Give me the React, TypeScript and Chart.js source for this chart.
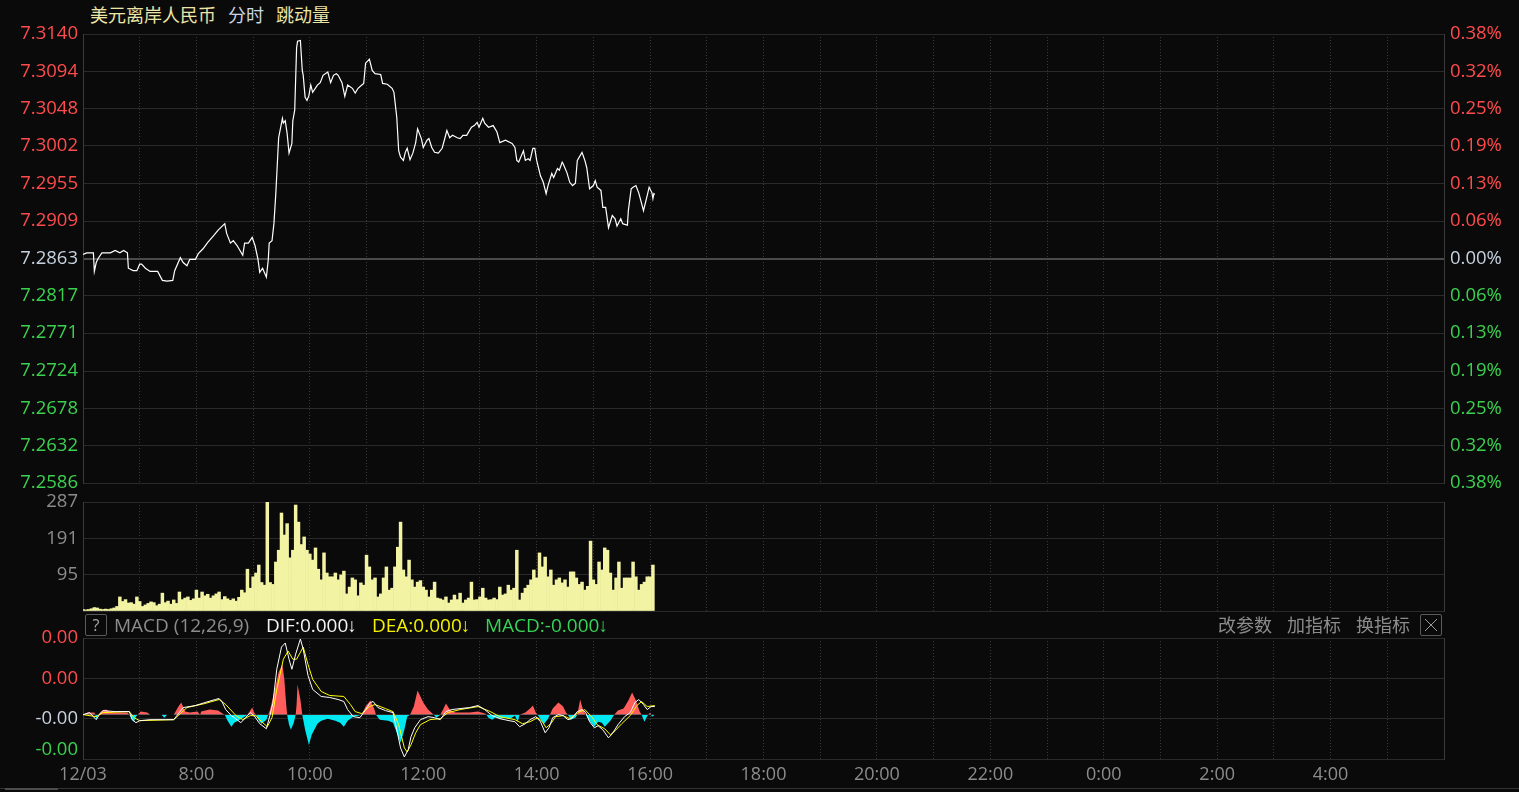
import React, { useEffect, useRef } from "react";
import { Chart, registerables } from "chart.js";

Chart.register(...registerables);

// ---------------- data ----------------
const BASE_PRICE = 7.2863; // previous close (0.00%)
const SESSION_MINUTES = 1440; // 06:00 12/03 -> 06:00 next day
const hourTicks = [0, 60, 120, 180, 240, 300, 360, 420, 480, 540, 600, 660, 720, 780, 840, 900, 960, 1020, 1080, 1140, 1200, 1260, 1320, 1380, 1440];
const timeLabelMinutes = [0, 120, 240, 360, 480, 600, 720, 840, 960, 1080, 1200, 1320];
const timeLabels = ["12/03", "8:00", "10:00", "12:00", "14:00", "16:00", "18:00", "20:00", "22:00", "0:00", "2:00", "4:00"];

const priceTicks = [7.314, 7.3094, 7.3048, 7.3002, 7.2955, 7.2909, 7.2863, 7.2817, 7.2771, 7.2724, 7.2678, 7.2632, 7.2586];
const volumeTicks = [287, 191, 95, 0];
const macdTicks = [0.0019, 0.0009, -0.0001, -0.00088, -0.0011];

// minutes after 06:00
const priceMinutes = [
  0, 4, 11, 12, 14, 16, 20, 29, 34, 39,
  43, 47, 48, 53, 57, 60, 62, 66, 71, 79,
  84, 89, 95, 97, 103, 106, 110, 113, 119, 122,
  127, 132, 138, 143, 150, 152, 156, 159, 163, 169,
  171, 175, 179, 182, 185, 187, 190, 194, 196, 197,
  200, 202, 204, 207, 211, 212, 214, 216, 218, 221,
  222, 224, 226, 227, 230, 232, 233, 235, 237, 239,
  241, 243, 248, 251, 254, 259, 262, 265, 268, 270,
  274, 277, 280, 285, 288, 291, 295, 297, 299, 303,
  306, 309, 315, 317, 322, 327, 329, 332, 334, 336,
  339, 341, 343, 346, 349, 352, 354, 358, 360, 364,
  366, 369, 372, 376, 380, 383, 385, 388, 391, 396,
  399, 402, 406, 411, 414, 417, 419, 423, 425, 429,
  434, 438, 441, 447, 454, 457, 459, 461, 466, 468,
  471, 473, 476, 478, 480, 484, 487, 490, 492, 496,
  498, 502, 504, 507, 508, 512, 515, 518, 521, 523,
  528, 531, 533, 536, 540, 542, 544, 548, 550, 553,
  556, 560, 563, 565, 569, 571, 576, 577, 580, 582,
  585, 588, 591, 593, 597, 599, 602, 603, 604, 605,
];
const prices = [
  7.2868, 7.287, 7.287, 7.2847, 7.2858, 7.2863, 7.287, 7.287, 7.2873, 7.287,
  7.2873, 7.287, 7.2851, 7.2848, 7.2848, 7.2856, 7.2856, 7.2851, 7.2847, 7.2847,
  7.2836, 7.2835, 7.2836, 7.2848, 7.2864, 7.2858, 7.2854, 7.2862, 7.2862, 7.2869,
  7.2875, 7.2883, 7.2891, 7.2898, 7.2906, 7.2894, 7.2882, 7.2885, 7.2879, 7.2867,
  7.2882, 7.2882, 7.2889, 7.2879, 7.2863, 7.2846, 7.2851, 7.284, 7.2861, 7.2882,
  7.2885, 7.2906, 7.2943, 7.3012, 7.3036, 7.303, 7.3033, 7.3017, 7.2993, 7.3005,
  7.3033, 7.3046, 7.3123, 7.3131, 7.3132, 7.3095, 7.3089, 7.3062, 7.3058, 7.3064,
  7.3077, 7.3068, 7.3077, 7.308, 7.3089, 7.3093, 7.308, 7.3089, 7.3091, 7.3089,
  7.308, 7.3063, 7.3077, 7.3073, 7.3067, 7.3073, 7.3077, 7.3079, 7.3104, 7.3109,
  7.3095, 7.3091, 7.309, 7.3079, 7.3078, 7.3073, 7.3068, 7.3037, 7.2996, 7.2988,
  7.2984, 7.2994, 7.2999, 7.2985, 7.2993, 7.3006, 7.3023, 7.3011, 7.3, 7.3009,
  7.3011, 7.3, 7.2994, 7.2993, 7.2999, 7.3012, 7.3021, 7.3012, 7.3015, 7.3012,
  7.3011, 7.3015, 7.3015, 7.3025, 7.3027, 7.3031, 7.3025, 7.3036, 7.303, 7.3025,
  7.3027, 7.3019, 7.3006, 7.3009, 7.3005, 7.3, 7.2984, 7.2982, 7.2996, 7.2984,
  7.2986, 7.2984, 7.2999, 7.2999, 7.2984, 7.2965, 7.2957, 7.2943, 7.2953, 7.2968,
  7.2963, 7.2974, 7.2972, 7.2982, 7.298, 7.2969, 7.2957, 7.2953, 7.2956, 7.2984,
  7.2994, 7.2984, 7.2975, 7.2949, 7.2953, 7.2959, 7.2951, 7.2947, 7.2926, 7.2926,
  7.2901, 7.2916, 7.2912, 7.2903, 7.2912, 7.2906, 7.2904, 7.2922, 7.2949, 7.2951,
  7.2953, 7.2944, 7.2931, 7.2922, 7.2941, 7.2951, 7.2944, 7.2937, 7.2943, 7.2942,
];

// tick volume, one value per 3-minute slot from 06:00
const VOLUME_STEP_MIN = 3;
const volumes = [
  4, 3, 4, 6, 9, 8, 5, 4, 5, 4,
  6, 8, 12, 37, 25, 30, 21, 22, 18, 37,
  25, 12, 16, 20, 24, 22, 14, 18, 47, 22,
  26, 18, 29, 20, 50, 30, 34, 37, 28, 32,
  55, 34, 50, 40, 44, 34, 40, 45, 50, 30,
  38, 32, 28, 32, 26, 36, 55, 48, 110, 60,
  90, 100, 121, 75, 68, 287, 75, 70, 129, 160,
  258, 200, 230, 140, 160, 279, 234, 175, 195, 160,
  150, 134, 166, 110, 82, 153, 100, 90, 90, 100,
  82, 95, 105, 45, 63, 87, 82, 40, 74, 68,
  147, 116, 82, 87, 37, 45, 87, 116, 55, 60,
  116, 168, 234, 108, 90, 134, 82, 63, 76, 80,
  63, 55, 37, 55, 76, 34, 32, 29, 37, 21,
  29, 42, 30, 47, 21, 29, 34, 76, 29, 30,
  37, 60, 34, 29, 30, 34, 30, 63, 42, 45,
  68, 55, 60, 160, 29, 47, 60, 68, 82, 108,
  87, 153, 116, 142, 90, 108, 68, 82, 87, 74,
  82, 63, 103, 103, 87, 70, 76, 55, 65, 184,
  82, 70, 129, 108, 166, 160, 100, 55, 87, 129,
  60, 87, 87, 87, 129, 90, 55, 70, 76, 90,
  90, 121,
];

const histMinutes = [
  0, 5, 12, 13, 14, 16, 21, 24, 28, 31,
  47, 49, 52, 54, 56, 58, 61, 68, 71, 83,
  86, 89, 96, 101, 104, 108, 113, 121, 124, 125,
  134, 143, 148, 150, 153, 157, 160, 166, 171, 174,
  177, 179, 181, 183, 186, 189, 194, 196, 198, 203,
  207, 211, 213, 215, 216, 218, 220, 223, 225, 226,
  227, 230, 232, 235, 239, 242, 248, 252, 259, 267,
  272, 276, 280, 286, 291, 295, 299, 304, 308, 310,
  314, 323, 328, 332, 336, 340, 343, 346, 350, 354,
  360, 365, 370, 374, 378, 381, 384, 388, 394, 399,
  409, 418, 426, 429, 433, 437, 441, 447, 452, 457,
  460, 462, 468, 473, 476, 479, 481, 485, 488, 492,
  494, 497, 503, 508, 511, 513, 516, 521, 523, 526,
  529, 532, 535, 541, 545, 549, 552, 558, 562, 566,
  572, 577, 581, 585, 589, 591, 594, 596, 598, 600,
  602, 605,
];
const histValues = [
  0, 0.00005, 0.00005, 0, -0.000125, 0, 0.0001, 0.000125, 0.000075, 0.00005,
  0.00005, 0, -0.000125, -0.000175, -0.00005, 0, 0.000075, 0.00005, 0, 0,
  -0.000075, 0, 0, 0.0002, 0.0003, 0.000075, 0.00005, 0.000075, 0, 0.000075,
  0.000125, 0.0001, 0.000025, 0, -0.00015, -0.0003, -0.0002, -0.000125, -0.00005, 0,
  0.0001, 0.000175, 0.00005, 0, -0.00015, -0.000225, -0.000125, 0, 0.000125, 0.000625,
  0.00105, 0.00125, 0.000875, 0.00025, 0, -0.00025, -0.000375, -0.0002, 0, 0.00025,
  0.00075, 0.000375, 0, -0.000375, -0.00075, -0.0005, -0.000225, -0.00015, -0.0001, -0.00015,
  -0.0002, -0.0003, -0.00015, -0.00005, -0.000025, 0, 0.0002, 0.00035, 0.00015, 0,
  -0.000125, -0.00015, -0.0002, -0.00045, -0.0007, -0.000375, -0.00005, 0, 0.0002, 0.0006,
  0.0003, 0.000125, 0.000025, -0.000075, 0, 0.000125, 0.000275, 0.000125, 0.00005, 0.00005,
  0.00005, 0.000075, 0.000025, -0.000075, -0.000125, -0.00005, -0.0001, -0.000075, -0.0001, -0.000025,
  -0.000175, 0, 0.00005, 0.00015, 0.000225, 0.00005, 0, -0.00015, -0.000225, -0.0001,
  0, 0.00015, 0.0003, 0.0002, 0.00005, 0, -0.000125, -0.000075, 0, 0.000375,
  0.000125, 0, -0.000125, -0.0003, -0.000175, -0.0002, -0.0003, -0.00015, 0, 0.0001,
  0.00015, 0.00035, 0.00055, 0.00035, 0.000075, 0, -0.000175, -0.000075, 0, 0.00005,
  -0.00005, 0,
];

const difMinutes = [
  0, 7, 14, 18, 21, 34, 49, 52, 56, 60,
  71, 87, 96, 101, 106, 119, 129, 140, 144, 147,
  151, 157, 160, 167, 172, 177, 181, 187, 194, 198,
  201, 205, 210, 214, 218, 221, 225, 230, 233, 238,
  243, 252, 261, 270, 276, 280, 286, 293, 299, 304,
  307, 312, 320, 328, 332, 336, 340, 344, 347, 351,
  357, 365, 372, 378, 384, 390, 399, 409, 418, 425,
  433, 441, 451, 457, 462, 468, 473, 479, 484, 489,
  493, 497, 503, 508, 513, 517, 523, 528, 532, 536,
  541, 545, 550, 556, 560, 566, 573, 579, 584, 588,
  593, 597, 601, 605,
];
const difValues = [
  0, 0.00005, -0.000125, 0.000025, 0.0001, 0.000075, 0.000075, -0.000125, -0.0002, -0.00015,
  -0.000125, -0.000125, -0.000125, 0.000025, 0.000175, 0.000225, 0.0003, 0.000375, 0.0004, 0.000325,
  0.000125, -0.000025, -0.000075, -0.0002, -0.000075, 0.00005, -0.000025, -0.000225, -0.00035, 0,
  0.0003, 0.001125, 0.001675, 0.001775, 0.001375, 0.001125, 0.0015, 0.001875, 0.001625, 0.000975,
  0.000625, 0.00045, 0.000425, 0.000375, 0.000325, 0.000125, -0.00005, -0.000075, 0.000125, 0.0003,
  0.000325, 0.000175, 0.0001, 0.00005, -0.000375, -0.000825, -0.00105, -0.000875, -0.00055, -0.000325,
  -0.000125, -0.00005, -0.000075, -0.000125, 0.000075, 0.000125, 0.00015, 0.000175, 0.000225, 0.000125,
  -0.000025, -0.0001, -0.00015, -0.000175, -0.0003, -0.000225, -0.000125, -0.00005, -0.000175, -0.00045,
  -0.000325, -0.000075, 0, -0.000025, -0.000125, -0.0001, 0.000075, 0.000125, 0.00005, -0.000175,
  -0.000325, -0.000275, -0.000375, -0.000575, -0.000475, -0.00025, -0.00005, 0.00005, 0.0003, 0.000375,
  0.00025, 0.000125, 0.0002, 0.0002,
];

const deaMinutes = [
  0, 14, 21, 49, 54, 60, 96, 103, 110, 129,
  144, 151, 162, 169, 177, 183, 189, 195, 200, 205,
  212, 217, 222, 226, 233, 238, 243, 252, 261, 276,
  283, 288, 295, 303, 309, 320, 328, 334, 340, 343,
  347, 352, 357, 367, 378, 386, 399, 418, 431, 441,
  457, 465, 473, 481, 486, 490, 495, 500, 508, 515,
  524, 531, 539, 544, 552, 558, 563, 570, 579, 586,
  591, 597, 605,
];
const deaValues = [
  0, -0.00005, 0.00005, 0.000075, -0.000075, -0.00015, -0.000125, 0.000025, 0.000175, 0.000275,
  0.000375, 0.00025, -0.000025, -0.000125, -0.000025, -0.000025, -0.000175, -0.0003, -0.000075, 0.000625,
  0.001375, 0.001575, 0.001375, 0.001375, 0.001675, 0.00125, 0.000875, 0.000575, 0.000475, 0.00045,
  0.00025, 0.000075, 0.000025, 0.0002, 0.00025, 0.00015, 0.000075, -0.00025, -0.000825, -0.000925,
  -0.00075, -0.00045, -0.00025, -0.000125, -0.0001, 0.00005, 0.000125, 0.0002, 0.000075, -0.00005,
  -0.000125, -0.000225, -0.000175, -0.000075, -0.000175, -0.000325, -0.000225, -0.00005, -0.000025, -0.0001,
  0.00005, 0.000125, -0.000075, -0.00025, -0.00035, -0.0005, -0.0004, -0.000225, -0.000025, 0.000225,
  0.000325, 0.0002, 0.000225,
];

// ---------------- styles ----------------
const FONT_FAMILY = '"Open Sans", "Noto Sans CJK SC", sans-serif';
const BG = "#0a0a0a";
const GRID = "#2a2a2a";
const VGRID = "#3a3a3a";
const FRAME = "#3a3a3a";
const UP = "#ff4b4b";
const DOWN = "#3bd150";
const FLAT = "#c6d2df";
const MUTED = "#8c8c8c";
const tickFont = { family: FONT_FAMILY, size: 18 };
const yTickFont = { family: FONT_FAMILY, size: 18.5 };

const W = 1519;
const LEFT_AXIS_W = 83;
const RIGHT_AXIS_W = 75;

function priceColor(v: number) {
  if (v > BASE_PRICE + 1e-7) return UP;
  if (v < BASE_PRICE - 1e-7) return DOWN;
  return FLAT;
}

function makeXScale(showLabels: boolean): any {
  return {
    type: "linear",
    min: 0,
    max: SESSION_MINUTES,
    offset: false,
    afterBuildTicks: (s: any) => {
      s.ticks = hourTicks.map((v) => ({ value: v }));
    },
    afterFit: (s: any) => {
      s.height = showLabels ? 33 : 0;
    },
    grid: {
      color: (c: any) =>
        c.tick && (c.tick.value === 0 || c.tick.value === SESSION_MINUTES) ? "rgba(0,0,0,0)" : VGRID,
      lineWidth: 1,
      drawTicks: false,
      offset: false,
    },
    border: { display: false, dash: [1, 2] },
    ticks: {
      display: showLabels,
      autoSkip: false,
      maxRotation: 0,
      minRotation: 0,
      color: MUTED,
      font: tickFont,
      padding: 5,
      callback: (v: any) => {
        const k = timeLabelMinutes.indexOf(Number(v));
        return k >= 0 ? timeLabels[k] : "";
      },
    },
  };
}

function frameAxis(min: number, max: number): any {
  return {
    position: "right",
    min,
    max,
    afterFit: (s: any) => {
      s.width = RIGHT_AXIS_W;
    },
    grid: { display: false, drawTicks: false },
    border: { display: true, color: FRAME },
    ticks: { display: false },
  };
}

const baseOptions: any = {
  responsive: false,
  maintainAspectRatio: false,
  animation: false,
  devicePixelRatio: 1,
  events: [],
  plugins: { legend: { display: false }, tooltip: { enabled: false }, title: { display: false } },
  elements: { point: { radius: 0 }, line: { tension: 0 } },
};

// canvas placement (page px): price 0..510, volume 478..638, macd 610..792
const PRICE_TOP = 0, PRICE_H = 510;
const VOL_TOP = 478, VOL_H = 160;
const MACD_TOP = 610, MACD_H = 182;

export default function App() {
  const priceRef = useRef<HTMLCanvasElement | null>(null);
  const volRef = useRef<HTMLCanvasElement | null>(null);
  const macdRef = useRef<HTMLCanvasElement | null>(null);

  useEffect(() => {
    const charts: Chart[] = [];

    // ---- price panel ----
    charts.push(
      new Chart(priceRef.current as HTMLCanvasElement, {
        type: "line",
        data: {
          datasets: [
            {
              label: "美元离岸人民币",
              data: priceMinutes.map((m, i) => ({ x: m, y: prices[i] })),
              borderColor: "#ffffff",
              borderWidth: 1.2,
              pointRadius: 0,
              tension: 0,
              fill: false,
            },
          ],
        },
        options: {
          ...baseOptions,
          layout: { padding: { top: 34, bottom: PRICE_H - 483, left: 0, right: 0 } },
          scales: {
            x: makeXScale(false),
            y: {
              position: "left",
              min: priceTicks[priceTicks.length - 1],
              max: priceTicks[0],
              afterBuildTicks: (s: any) => {
                s.ticks = priceTicks.map((v) => ({ value: v }));
              },
              afterFit: (s: any) => {
                s.width = LEFT_AXIS_W;
              },
              grid: {
                color: (c: any) => (c.tick && Math.abs(c.tick.value - BASE_PRICE) < 1e-7 ? "#4a4a4a" : GRID),
                lineWidth: (c: any) => (c.tick && Math.abs(c.tick.value - BASE_PRICE) < 1e-7 ? 2 : 1),
                drawTicks: false,
              },
              border: { display: true, color: FRAME },
              ticks: {
                autoSkip: false,
                padding: 5,
                font: yTickFont,
                color: (c: any) => priceColor(c.tick ? c.tick.value : BASE_PRICE),
                callback: (v: any) => Number(v).toFixed(4),
              },
            },
            y2: {
              position: "right",
              min: priceTicks[priceTicks.length - 1],
              max: priceTicks[0],
              afterBuildTicks: (s: any) => {
                s.ticks = priceTicks.map((v) => ({ value: v }));
              },
              afterFit: (s: any) => {
                s.width = RIGHT_AXIS_W;
              },
              grid: { display: false, drawTicks: false },
              border: { display: true, color: FRAME },
              ticks: {
                autoSkip: false,
                padding: 6,
                font: yTickFont,
                color: (c: any) => priceColor(c.tick ? c.tick.value : BASE_PRICE),
                callback: (v: any) => ((Math.abs(Number(v) - BASE_PRICE) / BASE_PRICE) * 100).toFixed(2) + "%",
              },
            },
          },
        } as any,
      })
    );

    // ---- volume panel ----
    charts.push(
      new Chart(volRef.current as HTMLCanvasElement, {
        type: "bar",
        data: {
          datasets: [
            {
              label: "跳动量",
              data: volumes.map((v, i) => ({ x: i * VOLUME_STEP_MIN, y: v })),
              backgroundColor: "#f3f3a4",
              borderWidth: 0,
              barPercentage: 1,
              categoryPercentage: 1,
            } as any,
          ],
        },
        options: {
          ...baseOptions,
          layout: { padding: { top: 502 - VOL_TOP, bottom: VOL_TOP + VOL_H - 611, left: 0, right: 0 } },
          scales: {
            x: makeXScale(false),
            y: {
              position: "left",
              min: 0,
              max: volumeTicks[0],
              afterBuildTicks: (s: any) => {
                s.ticks = volumeTicks.map((v) => ({ value: v }));
              },
              afterFit: (s: any) => {
                s.width = LEFT_AXIS_W;
              },
              grid: { color: GRID, drawTicks: false },
              border: { display: true, color: FRAME },
              ticks: {
                autoSkip: false,
                padding: 5,
                font: yTickFont,
                color: MUTED,
                callback: (v: any) => (Number(v) === 0 ? "" : String(v)),
              },
            },
            y2: frameAxis(0, volumeTicks[0]),
          },
        } as any,
      })
    );

    // ---- MACD panel ----
    const macdMax = macdTicks[0];
    const macdMin = macdTicks[macdTicks.length - 1];
    charts.push(
      new Chart(macdRef.current as HTMLCanvasElement, {
        type: "line",
        data: {
          datasets: [
            {
              label: "DIF",
              data: difMinutes.map((m, i) => ({ x: m, y: difValues[i] })),
              borderColor: "#ffffff",
              borderWidth: 1,
              pointRadius: 0,
              tension: 0,
              fill: false,
              order: 1,
            },
            {
              label: "DEA",
              data: deaMinutes.map((m, i) => ({ x: m, y: deaValues[i] })),
              borderColor: "#ffff00",
              borderWidth: 1,
              pointRadius: 0,
              tension: 0,
              fill: false,
              order: 2,
            },
            {
              label: "MACD",
              data: histMinutes.map((m, i) => ({ x: m, y: histValues[i] })),
              borderColor: "rgba(0,0,0,0)",
              borderWidth: 0,
              pointRadius: 0,
              tension: 0,
              fill: { target: "origin", above: "#ff5c5c", below: "#00e8f2" },
              order: 3,
            } as any,
          ],
        },
        options: {
          ...baseOptions,
          layout: { padding: { top: 638 - MACD_TOP, bottom: 0, left: 0, right: 0 } },
          scales: {
            x: makeXScale(true),
            y: {
              position: "left",
              min: macdMin,
              max: macdMax,
              afterBuildTicks: (s: any) => {
                s.ticks = macdTicks.map((v) => ({ value: v }));
              },
              afterFit: (s: any) => {
                s.width = LEFT_AXIS_W;
              },
              grid: {
                color: (c: any) => (c.tick && c.tick.value === macdTicks[3] ? "rgba(0,0,0,0)" : GRID),
                drawTicks: false,
              },
              border: { display: true, color: FRAME },
              ticks: {
                autoSkip: false,
                padding: 5,
                font: yTickFont,
                color: (c: any) => {
                  const v = c.tick ? c.tick.value : 0;
                  if (v > 0) return UP;
                  if (v === macdTicks[2]) return FLAT;
                  return DOWN;
                },
                callback: (v: any) => (Number(v) === macdMin ? "" : Number(v).toFixed(2)),
              },
            },
            y2: frameAxis(macdMin, macdMax),
          },
        } as any,
      })
    );

    return () => charts.forEach((c) => c.destroy());
  }, []);

  const stripText: React.CSSProperties = {
    position: "absolute",
    top: 614,
    height: 22,
    lineHeight: "22px",
    fontSize: 19,
    whiteSpace: "nowrap",
  };
  const arrow: React.CSSProperties = { fontFamily: '"Liberation Sans", "DejaVu Sans", sans-serif', marginLeft: -1 };

  return (
    <div
      style={{
        position: "fixed",
        left: 0,
        top: 0,
        width: W,
        height: 792,
        background: BG,
        overflow: "hidden",
        fontFamily: FONT_FAMILY,
      }}
    >
      {/* title */}
      <div style={{ position: "absolute", left: 90, top: 3, fontSize: 18, lineHeight: "24px", color: "#ece5a6", whiteSpace: "nowrap" }}>美元离岸人民币</div>
      <div style={{ position: "absolute", left: 228, top: 3, fontSize: 18, lineHeight: "24px", color: "#c9d6e3", whiteSpace: "nowrap" }}>分时</div>
      <div style={{ position: "absolute", left: 276, top: 3, fontSize: 18, lineHeight: "24px", color: "#ece5a6", whiteSpace: "nowrap" }}>跳动量</div>

      <canvas ref={priceRef} width={W} height={PRICE_H} style={{ position: "absolute", left: 0, top: PRICE_TOP }} />
      <canvas ref={volRef} width={W} height={VOL_H} style={{ position: "absolute", left: 0, top: VOL_TOP }} />
      <canvas ref={macdRef} width={W} height={MACD_H} style={{ position: "absolute", left: 0, top: MACD_TOP }} />

      {/* MACD header strip */}
      <div
        style={{
          position: "absolute",
          left: 85,
          top: 614,
          width: 20,
          height: 20,
          border: "1px solid #5a5a5a",
          borderRadius: 2,
          color: "#a8a8a8",
          fontSize: 16,
          lineHeight: "20px",
          textAlign: "center",
        }}
      >
        ?
      </div>
      <div style={{ ...stripText, left: 114, color: MUTED }}>MACD (12,26,9)</div>
      <div style={{ ...stripText, left: 266, color: "#f2f2f2" }}>
        DIF:0.000<span style={arrow}>↓</span>
      </div>
      <div style={{ ...stripText, left: 372, color: "#f4f000" }}>
        DEA:0.000<span style={arrow}>↓</span>
      </div>
      <div style={{ ...stripText, left: 485, color: "#37d257" }}>
        MACD:-0.000<span style={arrow}>↓</span>
      </div>
      <div style={{ ...stripText, left: 1218, color: MUTED, fontSize: 18 }}>改参数</div>
      <div style={{ ...stripText, left: 1287, color: MUTED, fontSize: 18 }}>加指标</div>
      <div style={{ ...stripText, left: 1356, color: MUTED, fontSize: 18 }}>换指标</div>
      <div
        style={{
          position: "absolute",
          left: 1420,
          top: 614,
          width: 20,
          height: 20,
          border: "1px solid #5a5a5a",
          borderRadius: 2,
        }}
      >
        <svg width="20" height="20" style={{ display: "block" }}>
          <line x1="4" y1="4" x2="16" y2="16" stroke="#9a9a9a" strokeWidth="1" />
          <line x1="16" y1="4" x2="4" y2="16" stroke="#9a9a9a" strokeWidth="1" />
        </svg>
      </div>

      {/* bottom scroll bar */}
      <div style={{ position: "absolute", left: 0, top: 788, width: W, height: 1, background: "#333333" }} />
      <div style={{ position: "absolute", left: 5, top: 788, width: 53, height: 2, background: "#4c4c4c" }} />
    </div>
  );
}
